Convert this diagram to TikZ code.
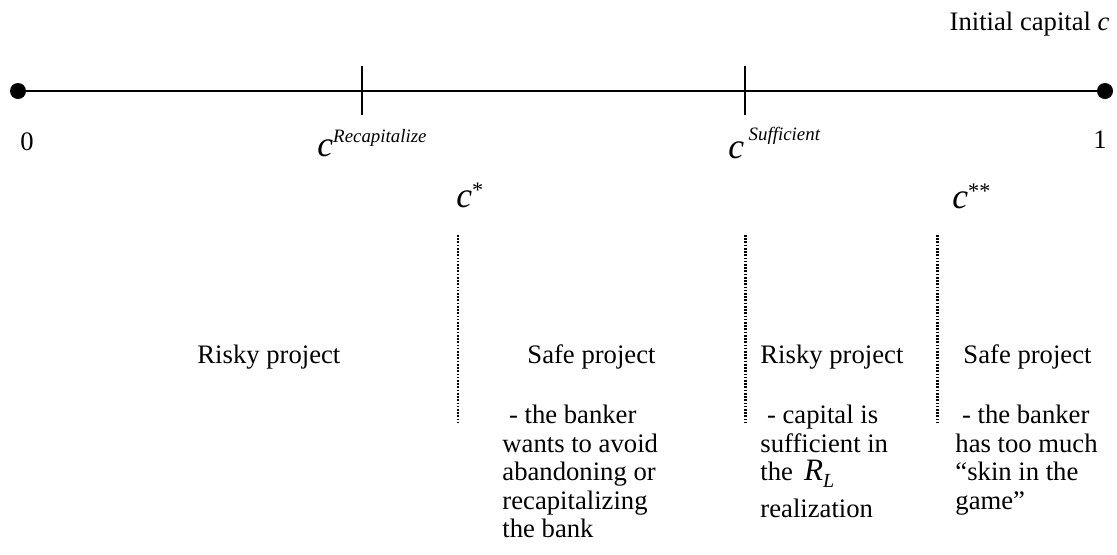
\documentclass[tikz,border=0pt]{standalone}
\usepackage{fontspec}
\setmainfont{Liberation Serif}
\usetikzlibrary{positioning}

\newcommand{\cvar}{{\fontsize{16}{16}\selectfont\itshape c}}
\newcommand{\supx}[2]{\raisebox{#1}{\fontsize{8.5}{8.5}\selectfont\itshape #2}}
\newcommand{\stars}[1]{\raisebox{4.5pt}{\fontsize{10}{10}\selectfont #1}}

\begin{document}
\begin{tikzpicture}[
  x=0.45pt, y=-0.45pt,
  every node/.style = {inner sep=0pt, font=\fontsize{12}{12.8}\selectfont},
  endpoint/.style = {circle, fill=black, minimum size=7.2pt},
  axis/.style = {line width=0.9pt},
  tick/.style = {line width=0.9pt},
  boundary/.style = {line width=1.2pt, dash pattern=on 0.75pt off 0.7pt},
  project/.style = {anchor=base west},
  note/.style = {anchor=north west, align=left}
]
  \useasboundingbox (0,0) rectangle (1117,554);

  % the capital axis
  \node[endpoint] (zero) at (18,91) {};
  \node[endpoint] (one) at (1105,91) {};
  \draw[axis] (zero) -- (one);
  \node[anchor=base east] (title) at (1110,30) {Initial capital \textit{c}};

  \coordinate (recaptop) at (362,66);
  \coordinate (recapbot) at (362,115);
  \coordinate (sufftop) at (745,66);
  \coordinate (suffbot) at (745,115);
  \draw[tick] (recaptop) -- (recapbot);
  \draw[tick] (sufftop) -- (suffbot);

  \node[anchor=base] (lzero) at (27,150) {0};
  \node[anchor=base] (lone) at (1100,148) {1};
  \node[anchor=base west] (crecap) at (317,156) {\cvar\supx{6pt}{Recapitalize}};
  \node[anchor=base west] (csuff) at (728,158) {\cvar\hspace{2pt}\supx{8pt}{Sufficient}};
  \node[anchor=base west] (cstar) at (456,207) {\cvar\stars{*}};
  \node[anchor=base west] (cstarstar) at (952,208) {\cvar\stars{**}};

  % regions between the thresholds
  \coordinate (lowtop) at (458,235);
  \coordinate (lowbot) at (458,423);
  \coordinate (midtop) at (745.5,235);
  \coordinate (midbot) at (745.5,423);
  \coordinate (hightop) at (937.5,235);
  \coordinate (highbot) at (937.5,423);
  \draw[boundary] (lowtop) -- (lowbot);
  \draw[boundary] (midtop) -- (midbot);
  \draw[boundary] (hightop) -- (highbot);

  \node[project] (risky1) at (197,363) {Risky project};
  \node[project] (safe1) at (527,363) {Safe project};
  \node[project] (risky2) at (760,363) {Risky project};
  \node[project] (safe2) at (963,363) {Safe project};

  \node[note] (safe1note) at (502,405) {\ - the banker\\wants to avoid\\abandoning or\\recapitalizing\\the bank};
  \node[note] (risky2note) at (760,405) {\ - capital is\\sufficient in\\the\hspace{5pt}{\fontsize{14}{14}\selectfont\itshape R}\raisebox{-3pt}{\fontsize{9}{9}\selectfont\itshape L}\\[3.6pt]realization};
  \node[note] (safe2note) at (955,405) {\ - the banker\\has too much\\“skin in the\\game”};
\end{tikzpicture}
\end{document}
